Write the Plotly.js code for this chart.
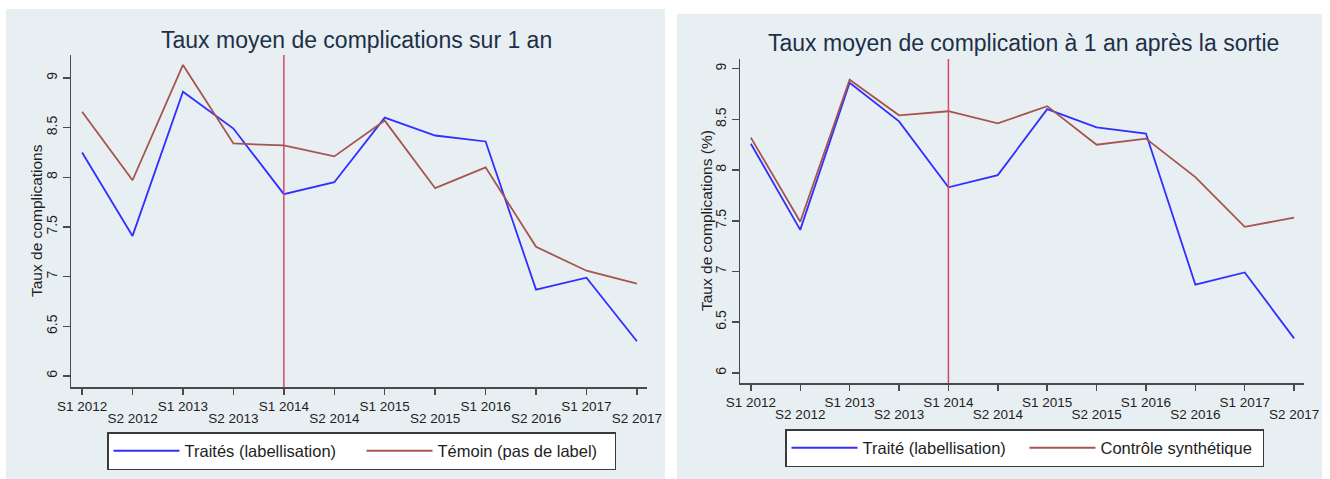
<!DOCTYPE html>
<html><head><meta charset="utf-8">
<script src="https://cdn.plot.ly/plotly-3.0.1.min.js"></script>
<style>html,body{margin:0;padding:0;background:#fff}</style>
</head><body><div id="chart" style="width:1330px;height:479px"></div>
<script>
const periods = ['S1 2012','S2 2012','S1 2013','S2 2013','S1 2014','S2 2014','S1 2015','S2 2015','S1 2016','S2 2016','S1 2017','S2 2017'];
const treatedLeft = [8.25,7.41,8.86,8.49,7.83,7.95,8.60,8.42,8.36,6.87,6.99,6.35];
const controlLeft = [8.66,7.97,9.13,8.34,8.32,8.21,8.57,7.89,8.10,7.30,7.06,6.93];
const treatedRight = [8.26,7.41,8.86,8.48,7.83,7.95,8.60,8.42,8.36,6.87,6.99,6.34];
const synthRight = [8.32,7.49,8.89,8.54,8.58,8.46,8.63,8.25,8.31,7.93,7.44,7.53];
const yTicks = [6,6.5,7,7.5,8,8.5,9];
const yTickLabels = ['6','6.5','7','7.5','8','8.5','9'];
const treatmentPeriod = 'S1 2014';
const leftTitle = 'Taux moyen de complications sur 1 an';
const rightTitle = 'Taux moyen de complication à 1 an après la sortie';
const leftYTitle = 'Taux de complications';
const rightYTitle = 'Taux de complications (%)';
const leftNames = ['Traités (labellisation)','Témoin (pas de label)'];
const rightNames = ['Traité (labellisation)','Contrôle synthétique'];

const W = 1330, H = 479;
const px = v => v / W, py = v => 1 - v / H;
const FONT = 'Liberation Sans, Arial, sans-serif';
const BLUE = '#2f2fff', MAROON = '#a55450', VLINE = '#d2476a', BG = '#e8eff2';
const TXT = '#1e1e1e', AX = '#4a4a4a';

// periods placed at their positions on a numeric axis; labels alternate on two rows
const pos = periods.map((p, i) => i);
const oddPos = pos.filter(i => i % 2 === 1);
const rowOneText = periods.map((p, i) => i % 2 ? '' : p);
const rowTwoText = oddPos.map(i => periods[i]);
const tPos = periods.indexOf(treatmentPeriod);
const XR = [-0.22, 11.2];

function xAxis(domain, anchor) {
  return {domain: domain, anchor: anchor, range: XR, automargin: false,
    tickvals: pos, ticktext: rowOneText, tickangle: 0, ticks: 'outside', ticklen: 6, tickwidth: 1.5,
    tickcolor: AX, showline: true, linecolor: AX, linewidth: 1.5, showgrid: false,
    zeroline: false, tickfont: {family: FONT, size: 13.5, color: TXT}, fixedrange: true};
}
function xAxisRow2(domain, anchor, over) {
  return {domain: domain, anchor: anchor, overlaying: over, side: 'bottom', range: XR, automargin: false,
    tickvals: oddPos, ticktext: rowTwoText, tickangle: 0, ticks: 'outside', ticklen: 6, tickwidth: 1,
    tickcolor: 'rgba(0,0,0,0)', ticklabelstandoff: 13, showline: false, showgrid: false,
    zeroline: false, tickfont: {family: FONT, size: 13.5, color: TXT}, fixedrange: true};
}
function yAxis(domain, anchor, range) {
  return {domain: domain, anchor: anchor, range: range, tickvals: yTicks, ticktext: yTickLabels, automargin: false,
    tickangle: -90, ticks: 'outside', ticklen: 7, tickwidth: 1.5, tickcolor: AX,
    showline: true, linecolor: AX, linewidth: 1.5, showgrid: true, gridcolor: BG, gridwidth: 1.5,
    zeroline: false, tickfont: {family: FONT, size: 14, color: TXT}, fixedrange: true};
}

const data = [
  {x: pos, y: treatedLeft, name: leftNames[0], type: 'scatter', mode: 'lines',
   line: {color: BLUE, width: 1.8}, xaxis: 'x', yaxis: 'y', legend: 'legend'},
  {x: pos, y: controlLeft, name: leftNames[1], type: 'scatter', mode: 'lines',
   line: {color: MAROON, width: 1.8}, xaxis: 'x', yaxis: 'y', legend: 'legend'},
  {x: pos, y: treatedRight, name: rightNames[0], type: 'scatter', mode: 'lines',
   line: {color: BLUE, width: 1.8}, xaxis: 'x2', yaxis: 'y2', legend: 'legend2'},
  {x: pos, y: synthRight, name: rightNames[1], type: 'scatter', mode: 'lines',
   line: {color: MAROON, width: 1.8}, xaxis: 'x2', yaxis: 'y2', legend: 'legend2'},
  // empty carriers so the second-row label axes get drawn
  {x: oddPos, y: oddPos.map(() => null), type: 'scatter', mode: 'lines', showlegend: false,
   hoverinfo: 'skip', xaxis: 'x3', yaxis: 'y'},
  {x: oddPos, y: oddPos.map(() => null), type: 'scatter', mode: 'lines', showlegend: false,
   hoverinfo: 'skip', xaxis: 'x4', yaxis: 'y2'}
];

const legendBase = {orientation: 'h', xref: 'paper', yref: 'paper', xanchor: 'left', yanchor: 'top',
  bgcolor: '#ffffff', bordercolor: '#3a3a3a', borderwidth: 1.5, itemwidth: 66,
  font: {family: FONT, size: 16.5, color: TXT}, itemclick: false, itemdoubleclick: false};

const layout = {
  width: W, height: H, margin: {l: 0, r: 0, t: 0, b: 0, autoexpand: false},
  paper_bgcolor: '#ffffff', plot_bgcolor: '#ffffff', showlegend: true,
  xaxis: xAxis([px(71), px(647)], 'y'),
  xaxis3: xAxisRow2([px(71), px(647)], 'y', 'x'),
  yaxis: yAxis([py(387), py(55)], 'x', [5.89, 9.23]),
  xaxis2: xAxis([px(740), px(1304)], 'y2'),
  xaxis4: xAxisRow2([px(740), px(1304)], 'y2', 'x2'),
  yaxis2: yAxis([py(383), py(59)], 'x2', [5.90, 9.095]),
  legend: Object.assign({}, legendBase, {x: px(107), y: py(432), entrywidth: 172}),
  legend2: Object.assign({}, legendBase, {x: px(785), y: py(429), entrywidth: 157}),
  shapes: [
    {type: 'rect', xref: 'paper', yref: 'paper', x0: px(6), x1: px(665), y0: 0, y1: py(9),
     fillcolor: BG, line: {width: 0}, layer: 'below'},
    {type: 'rect', xref: 'paper', yref: 'paper', x0: px(677), x1: px(1322), y0: 0, y1: py(14),
     fillcolor: BG, line: {width: 0}, layer: 'below'},
    {type: 'line', xref: 'x', yref: 'y domain', x0: tPos, x1: tPos, y0: 0, y1: 1,
     line: {color: VLINE, width: 1.5}},
    {type: 'line', xref: 'x2', yref: 'y2 domain', x0: tPos, x1: tPos, y0: 0, y1: 1,
     line: {color: VLINE, width: 1.5}}
  ],
  annotations: [
    {text: leftTitle, xref: 'paper', yref: 'paper', x: px(356), y: py(40), xanchor: 'center', yanchor: 'middle',
     showarrow: false, font: {family: FONT, size: 23, color: '#1d3048'}},
    {text: rightTitle, xref: 'paper', yref: 'paper', x: px(1023), y: py(43), xanchor: 'center', yanchor: 'middle',
     showarrow: false, font: {family: FONT, size: 23, color: '#1d3048'}},
    {text: leftYTitle, xref: 'paper', yref: 'paper', x: px(36), y: py(221), xanchor: 'center', yanchor: 'middle',
     textangle: -90, showarrow: false, font: {family: FONT, size: 15.5, color: TXT}},
    {text: rightYTitle, xref: 'paper', yref: 'paper', x: px(706), y: py(221), xanchor: 'center', yanchor: 'middle',
     textangle: -90, showarrow: false, font: {family: FONT, size: 15.5, color: TXT}}
  ]
};

Plotly.newPlot('chart', data, layout, {displayModeBar: false, staticPlot: true});
</script>
</body></html>
